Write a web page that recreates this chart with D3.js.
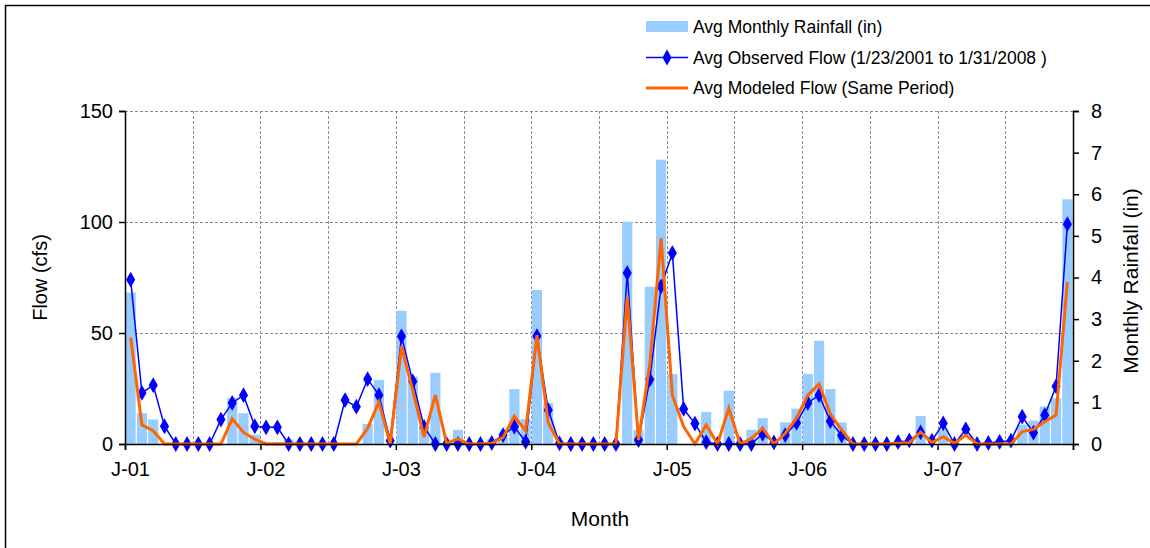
<!DOCTYPE html>
<html>
<head>
<meta charset="utf-8">
<script src="https://cdn.jsdelivr.net/npm/d3@7"></script>
<style>
  html, body { margin: 0; padding: 0; background: #fff; }
  svg { display: block; font-family: "Liberation Sans", Arial, sans-serif; }
</style>
</head>
<body>
<div id="chart"></div>
<script>
(function () {
  'use strict';

  // Years on the axis (one label per January)
  const YEAR_LABELS = ['J-01', 'J-02', 'J-03', 'J-04', 'J-05', 'J-06', 'J-07'];

  // Avg monthly rainfall (in), Jan 2001 .. Dec 2007
  const RAINFALL = [
    3.64, 0.74, 0.59, 0, 0, 0, 0, 0, 0, 1.1, 0.74, 0.22,
    0.05, 0.05, 0.11, 0.06, 0, 0, 0, 0, 0, 0.48, 1.54, 0,
    3.2, 1.62, 0.42, 1.71, 0, 0.34, 0, 0, 0.11, 0.16, 1.32, 0.6,
    3.7, 0.98, 0, 0, 0, 0, 0, 0, 5.34, 0.34, 3.78, 6.83,
    1.68, 0, 0, 0.77, 0, 1.28, 0, 0.34, 0.62, 0, 0.52, 0.85,
    1.68, 2.48, 1.32, 0.52, 0, 0, 0, 0, 0, 0, 0.67, 0,
    0.35, 0, 0, 0, 0, 0, 0, 0.46, 0.56, 0.9, 1.1, 5.88
  ];

  // Avg observed flow (cfs)
  const OBSERVED = [
    74, 23, 26.5, 8, 0, 0, 0, 0, 11, 18.5, 22, 8,
    7.5, 7.5, 0, 0, 0, 0, 0, 19.8, 16.8, 29.2, 22, 1.5,
    48.5, 28.2, 7.7, 0, 0, 0, 0, 0, 0.5, 4, 7.8, 1,
    48.6, 15.3, 0.3, 0, 0, 0, 0, 0, 77, 1.8, 29, 71,
    86, 15.8, 9.2, 0.8, 0, 0, 0, 0, 4.6, 0.7, 4, 9.5,
    18.5, 22, 10.3, 3.8, 0, 0, 0, 0, 0.8, 1.6, 5.2, 1.5,
    9.3, 0, 6.6, 0, 0.5, 1, 1.5, 12.3, 5.1, 13, 26, 99
  ];

  // Avg modeled flow (cfs)
  const MODELED = [
    48, 8.6, 6, 0, 0, 0, 0, 0, 0, 11.3, 5.2, 2.2,
    0, 0, 0, 0, 0, 0, 0, 0, 0, 7, 19, 0,
    44, 24, 3.2, 22, 0.3, 2.3, 0, 0, 0.3, 3, 12.5, 6,
    49, 9.6, 0, 0, 0, 0, 0, 0, 66.4, 1.8, 36, 92.7,
    22, 7.8, 0, 8.6, 0, 16.1, 0, 2.4, 7.1, 0, 4.8, 11.6,
    22, 27, 13.5, 6.3, 0, 0, 0, 0, 0.3, 0.6, 5.4, 0.6,
    3.3, 0.3, 4, 0, 0, 0, 0, 5.6, 6.6, 10, 13, 73
  ];

  const FLOW_TICKS = [0, 50, 100, 150];
  const RAIN_TICKS = [0, 1, 2, 3, 4, 5, 6, 7, 8];

  const LEGEND = [
    { type: 'bar',  label: 'Avg Monthly Rainfall (in)' },
    { type: 'obs',  label: 'Avg Observed Flow (1/23/2001 to 1/31/2008 )' },
    { type: 'mod',  label: 'Avg Modeled Flow (Same Period)' }
  ];

  const BAR_COLOR = '#99CCFF';
  const OBS_COLOR = '#0000FF';
  const MOD_COLOR = '#FF6600';
  const GRID_COLOR = '#8C8C8C';

  const W = 1150, H = 548;
  const plot = { left: 125, right: 1073, top: 111, bottom: 444 };
  const months = d3.range(RAINFALL.length);

  const svg = d3.select('#chart').append('svg')
    .attr('width', W).attr('height', H);

  // outer chart border (runs off the right and bottom edges)
  svg.append('rect')
    .attr('x', 5.5).attr('y', 5.5)
    .attr('width', 1200).attr('height', 600)
    .attr('fill', 'none').attr('stroke', '#000').attr('stroke-width', 1.5);

  const x = d3.scaleBand().domain(months).range([plot.left, plot.right]).paddingInner(0.1).paddingOuter(0.05);
  const xl = d3.scaleLinear().domain([0, months.length]).range([plot.left, plot.right]);
  const yFlow = d3.scaleLinear().domain([0, 150]).range([plot.bottom, plot.top]);
  const yRain = d3.scaleLinear().domain([0, 8]).range([plot.bottom, plot.top]);
  const cx = i => xl(i + 0.5);

  // gridlines
  const grid = svg.append('g')
    .attr('stroke', GRID_COLOR).attr('stroke-dasharray', '3,2').attr('stroke-width', 1);
  FLOW_TICKS.filter(t => t > 0).forEach(t => {
    grid.append('line')
      .attr('x1', plot.left).attr('x2', plot.right)
      .attr('y1', Math.round(yFlow(t)) + 0.5).attr('y2', Math.round(yFlow(t)) + 0.5);
  });
  d3.range(6, months.length, 6).forEach(m => {
    grid.append('line')
      .attr('x1', Math.round(xl(m)) + 0.5).attr('x2', Math.round(xl(m)) + 0.5)
      .attr('y1', plot.top).attr('y2', plot.bottom);
  });

  // rainfall bars
  svg.append('g').selectAll('rect')
    .data(RAINFALL)
    .join('rect')
    .attr('x', (d, i) => x(i))
    .attr('width', x.bandwidth())
    .attr('y', d => yRain(d))
    .attr('height', d => plot.bottom - yRain(d))
    .attr('fill', BAR_COLOR);

  // observed flow
  svg.append('path')
    .datum(OBSERVED)
    .attr('d', d3.line().x((d, i) => cx(i)).y(d => yFlow(d)))
    .attr('fill', 'none').attr('stroke', OBS_COLOR).attr('stroke-width', 1.5);

  const diamond = d3.symbol().type(d3.symbolDiamond).size(72);
  svg.append('g').selectAll('path')
    .data(OBSERVED)
    .join('path')
    .attr('transform', (d, i) => `translate(${cx(i)},${yFlow(d)})`)
    .attr('d', diamond)
    .attr('fill', OBS_COLOR);

  // modeled flow
  svg.append('path')
    .datum(MODELED)
    .attr('d', d3.line().x((d, i) => cx(i)).y(d => yFlow(d)))
    .attr('fill', 'none').attr('stroke', MOD_COLOR).attr('stroke-width', 3);

  // axes
  const fontSize = 20;
  const leftAxis = svg.append('g')
    .attr('transform', `translate(${plot.left},0)`)
    .call(d3.axisLeft(yFlow).tickValues(FLOW_TICKS).tickSize(6).tickPadding(6));
  const rightAxis = svg.append('g')
    .attr('transform', `translate(${plot.right},0)`)
    .call(d3.axisRight(yRain).tickValues(RAIN_TICKS).tickSize(6).tickPadding(12));
  const bottomAxis = svg.append('g')
    .attr('transform', `translate(0,${plot.bottom})`)
    .call(d3.axisBottom(xl)
      .tickValues(d3.range(0, months.length + 1, 12))
      .tickFormat(v => YEAR_LABELS[v / 12] || '')
      .tickSize(6).tickPadding(12));

  [leftAxis, rightAxis, bottomAxis].forEach(a => {
    a.select('.domain').attr('stroke', '#000').attr('stroke-width', 1.5);
    a.selectAll('.tick line').attr('stroke', '#000').attr('stroke-width', 1.5);
    a.selectAll('.tick text')
      .attr('fill', '#000')
      .attr('font-size', fontSize)
      .attr('font-family', '"Liberation Sans", Arial, sans-serif');
  });
  bottomAxis.selectAll('.tick text').attr('dx', 5);

  // axis titles
  svg.append('text')
    .attr('transform', `translate(40,${(plot.top + plot.bottom) / 2}) rotate(-90)`)
    .attr('text-anchor', 'middle').attr('dy', '0.35em')
    .attr('font-size', 20).text('Flow (cfs)');
  svg.append('text')
    .attr('transform', `translate(1131,281) rotate(-90)`)
    .attr('text-anchor', 'middle').attr('dy', '0.35em')
    .attr('font-size', 21).text('Monthly Rainfall (in)');
  svg.append('text')
    .attr('x', 600).attr('y', 519)
    .attr('text-anchor', 'middle').attr('dy', '0.35em')
    .attr('font-size', 21).text('Month');

  // legend
  const lg = svg.append('g').attr('transform', 'translate(646,27)');
  LEGEND.forEach((item, i) => {
    const row = lg.append('g').attr('transform', `translate(0,${i * 30.5})`);
    if (item.type === 'bar') {
      row.append('rect').attr('x', 0).attr('y', -6).attr('width', 42).attr('height', 11).attr('fill', BAR_COLOR);
    } else if (item.type === 'obs') {
      row.append('line').attr('x1', 0).attr('x2', 42).attr('y1', 0).attr('y2', 0)
        .attr('stroke', OBS_COLOR).attr('stroke-width', 1.5);
      row.append('path').attr('transform', 'translate(21,0)').attr('d', diamond).attr('fill', OBS_COLOR);
    } else {
      row.append('line').attr('x1', 0).attr('x2', 42).attr('y1', 0).attr('y2', 0)
        .attr('stroke', MOD_COLOR).attr('stroke-width', 3);
    }
    row.append('text')
      .attr('x', 47).attr('y', 0).attr('dy', '0.35em')
      .attr('font-size', 17.5).text(item.label);
  });
})();
</script>
</body>
</html>
